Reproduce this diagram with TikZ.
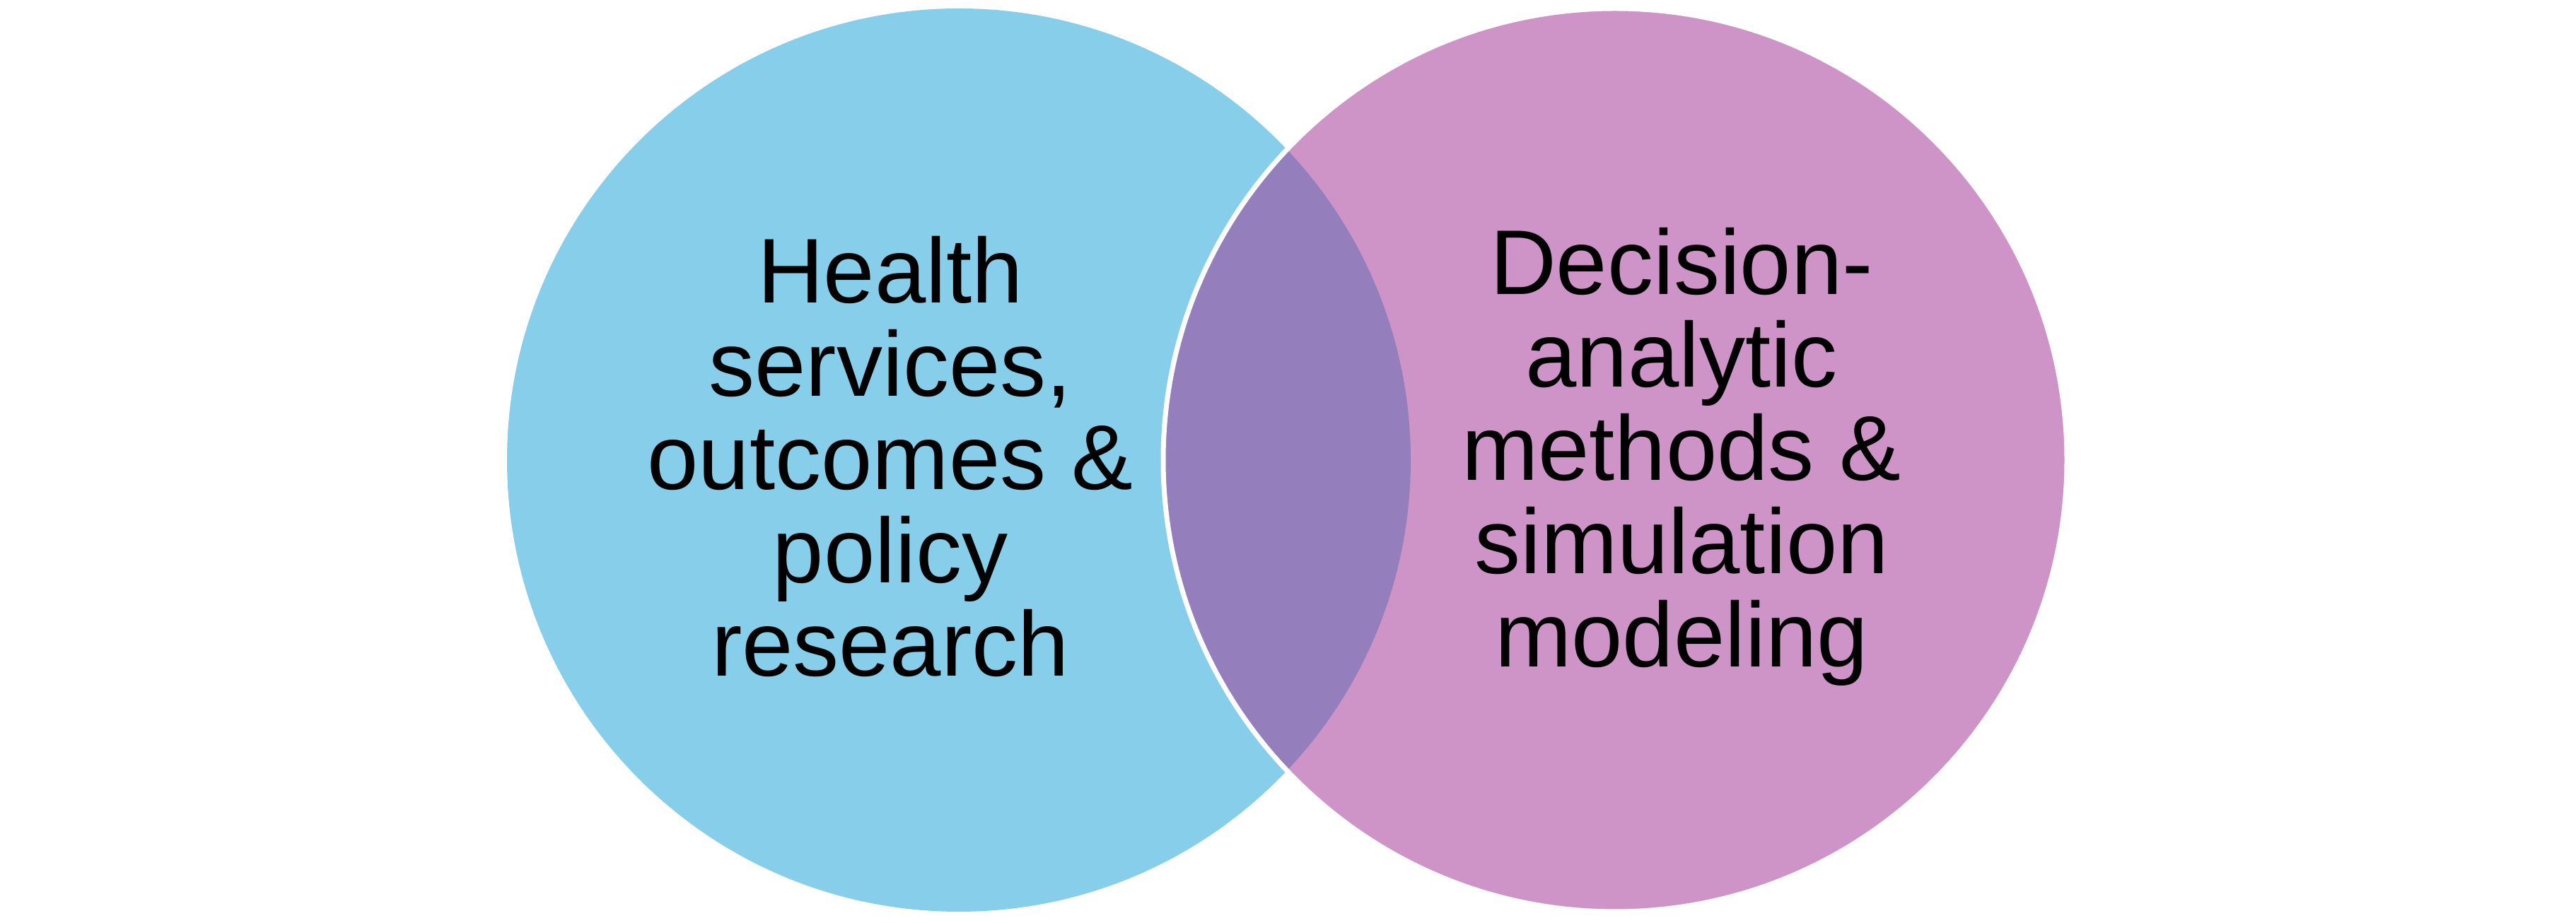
\documentclass[tikz,border=0pt]{standalone}
\usepackage{fontspec}
\setmainfont{Liberation Sans}
\usetikzlibrary{positioning}

\definecolor{healthblue}{HTML}{87CEEA}
\definecolor{decisionpink}{HTML}{CE94C7}
\definecolor{overlappurple}{HTML}{947EBC}

\begin{document}
\begin{tikzpicture}[
    label/.style={align=center, text=black, font=\fontsize{37}{37.5}\selectfont, inner sep=0pt}
]
\useasboundingbox (0,0) rectangle (36.43,13.06);

\coordinate (left) at (13.56,6.55);
\coordinate (right) at (22.84,6.55);

% circles
\fill[healthblue] (left) circle (6.39);
\fill[decisionpink] (right) circle (6.39);
\begin{scope}
    \clip (left) circle (6.39);
    \fill[overlappurple] (right) circle (6.39);
\end{scope}
\draw[white, line width=2pt] (right) circle (6.39);

% texts
\node[label] (health) at (12.59,6.60) {Health\\services,\\outcomes \&\\policy\\research};
\node[label] (decision) at (23.78,6.60) {Decision-\\analytic\\methods \&\\simulation\\modeling};

\end{tikzpicture}
\end{document}
